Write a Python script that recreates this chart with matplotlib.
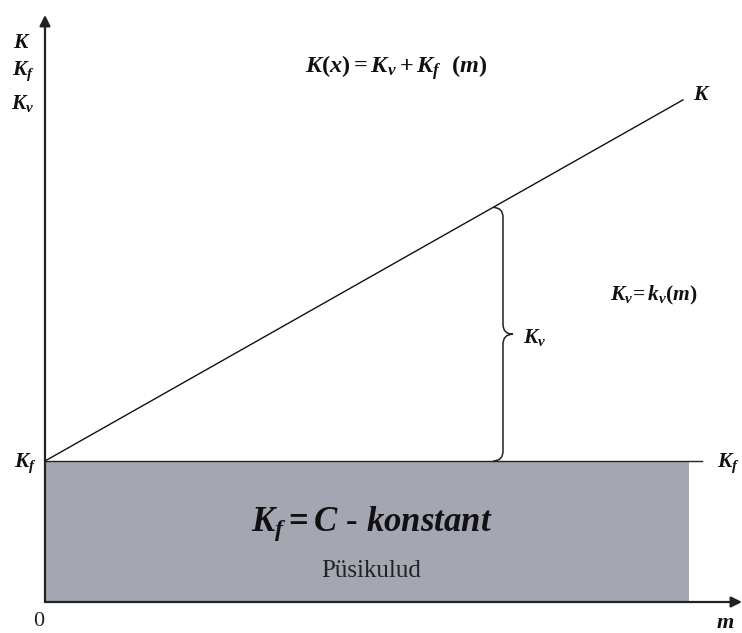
import matplotlib
matplotlib.use("Agg")
import matplotlib.pyplot as plt
import numpy as np
from matplotlib.path import Path
from matplotlib.patches import PathPatch

# ---- data (arbitrary units of the conceptual diagram) ----
m_end = 638.0          # extent of the total cost line
fixed_cost = 141.0     # K_f level
kv_slope = 0.566       # variable cost per unit m
fill_end = 644.0       # extent of the fixed-cost block
kf_line_end = 657.0    # extent of the K_f line
brace_m = 448.0        # where the K_v brace is drawn
x_axis_end = 697.0
y_axis_end = 587.0

m_line = np.array([0.0, m_end])
K_line = fixed_cost + kv_slope * m_line

plt.rcParams['mathtext.fontset'] = 'custom'
plt.rcParams['mathtext.it'] = 'Liberation Serif:italic:bold'
plt.rcParams['mathtext.rm'] = 'Liberation Serif:bold'
plt.rcParams['mathtext.bf'] = 'Liberation Serif:bold'
plt.rcParams['font.family'] = ['Liberation Serif', 'DejaVu Serif']

fig = plt.figure(figsize=(7.42, 6.33), dpi=100)
ax = fig.add_axes([0, 0, 1, 1])
ax.set_xlim(-45, 697)
ax.set_ylim(-31, 602)
ax.axis('off')

# fixed cost block
ax.fill_between([0, fill_end], 0, fixed_cost, color='#a4a6b1', lw=0, zorder=1)
# K_f line
ax.plot([0, kf_line_end], [fixed_cost, fixed_cost], color='#222222', lw=1.0, zorder=2)
# total cost line
ax.plot(m_line, K_line, color='#111111', lw=1.0, zorder=2)

# axes with arrows
arrow_kw = dict(arrowstyle='-|>', lw=1.6, color='#222222', mutation_scale=16,
                shrinkA=0, shrinkB=0)
ax.annotate('', xy=(0, y_axis_end), xytext=(0, 0), arrowprops=arrow_kw, zorder=3)
ax.annotate('', xy=(x_axis_end, 0), xytext=(0, 0), arrowprops=arrow_kw, zorder=3)

# brace for K_v
ytop = fixed_cost + kv_slope * brace_m
ybot = fixed_cost
ymid = (ytop + ybot) / 2
bx = brace_m
w = 10.0
r = 10.0
verts = [
    (bx, ytop),
    (bx + w, ytop), (bx + w, ytop - r),
    (bx + w, ymid + r),
    (bx + w, ymid), (bx + 2 * w, ymid),
    (bx + w, ymid), (bx + w, ymid - r),
    (bx + w, ybot + r),
    (bx + w, ybot), (bx, ybot),
]
codes = [Path.MOVETO,
         Path.CURVE3, Path.CURVE3,
         Path.LINETO,
         Path.CURVE3, Path.CURVE3,
         Path.CURVE3, Path.CURVE3,
         Path.LINETO,
         Path.CURVE3, Path.CURVE3]
ax.add_patch(PathPatch(Path(verts, codes), fill=False, lw=1.1, color='#222222', zorder=3))

# labels
lab = dict(fontsize=15.5, color='#111111')
ax.text(-23, 558, r'$K$', ha='center', va='center', **lab)
ax.text(-22, 531, r'$K_f$', ha='center', va='center', **lab)
ax.text(-22, 499, r'$K_v$', ha='center', va='center', **lab)

ax.text(351, 534, r'$K(x) = K_v + K_f\ \ (m)$', ha='center', va='center',
        fontsize=17.5, color='#111111')
ax.text(648, 506, r'$K$', ha='left', va='center', **lab)
ax.text(565, 307, r'$K_v\!= k_v(m)$', ha='left', va='center', **lab)
ax.text(478, 265, r'$K_v$', ha='left', va='center', **lab)
ax.text(-20, 139, r'$K_f$', ha='center', va='center', **lab)
ax.text(672, 139, r'$K_f$', ha='left', va='center', **lab)

ax.text(327, 78, r'$K_f = C$ - $konstant$', ha='center', va='center',
        fontsize=25, color='#111111')
ax.text(326, 31, 'Püsikulud', ha='center', va='center', fontsize=18, color='#222222')

ax.text(-6, -19, '0', ha='center', va='center', fontsize=16, color='#222222')
ax.text(680, -21, r'$m$', ha='center', va='center', fontsize=16, color='#111111')

fig.savefig('out.png', dpi=100)
